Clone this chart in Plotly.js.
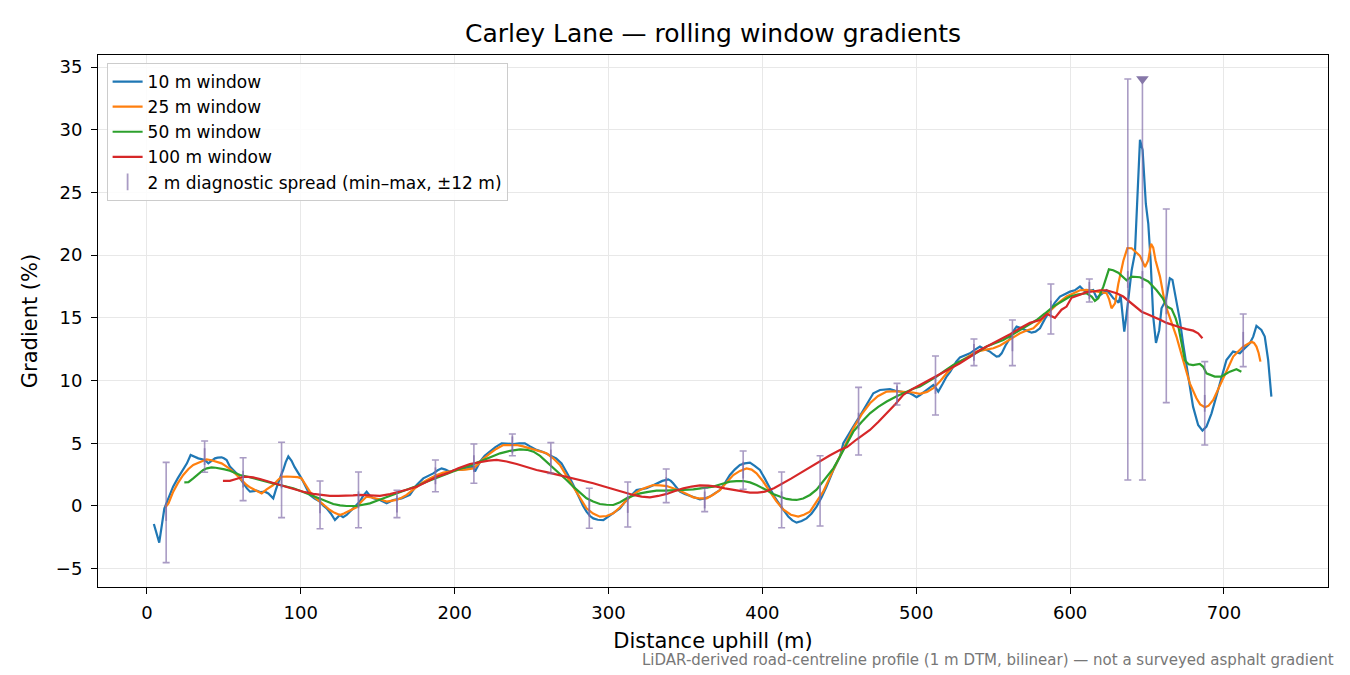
<!DOCTYPE html>
<html>
<head>
<meta charset="utf-8">
<script src="https://cdn.plot.ly/plotly-3.0.1.min.js"></script>
<style>
  body { margin: 0; background: #fff; }
  #chart { width: 1350px; height: 675px; }
</style>
</head>
<body>
<div id="chart"></div>
<script>
// 10 m window
var dist10 = [4.5, 8, 11.3, 14, 17, 20, 23.6, 26, 28.4, 31, 33.4, 37.7, 39.9, 42, 44.2, 46, 48.5, 50, 51.8, 53.9,
  56, 58.3, 60.5, 62.6, 65, 67, 69, 71.3, 74, 76.7, 78.9, 80.5, 82.1, 83.8, 85.4, 87, 88.6, 90.2, 91.9, 94,
  96, 97.3, 99.5, 101.6, 104, 105.9, 109, 112.4, 114.5, 116.8, 119.5, 122.2, 125.4, 127.5, 129.8, 132, 134.1, 136, 138.4, 140.5,
  142.8, 145, 147.1, 151.4, 155.8, 160.1, 165.5, 170.9, 173, 175.3, 179.6, 183, 186.1, 189, 191.5, 194, 196.9, 199.5, 202.3, 205,
  208, 212.1, 213.2, 216.5, 219.5, 223, 226.5, 230.5, 234, 238.1, 242, 245.6, 249, 253.2, 257.5, 261.9, 266, 269.5, 272.7, 275,
  277.1, 279.2, 281.4, 283.5, 285.7, 288, 290.1, 293, 296.6, 298.5, 300.9, 304, 307.4, 310.5, 313.9, 316, 318.2, 321.5, 324.7, 328,
  331.2, 335, 338.8, 340.5, 342, 344, 346.4, 349.5, 352.9, 356, 359.4, 362.5, 365.9, 369, 372.4, 375.5, 378.9, 382, 385.4, 388.5,
  391.9, 395, 398.4, 401.5, 404.9, 408, 411.4, 414, 416.8, 419.5, 422.2, 425.5, 428.7, 432, 435.2, 438.5, 441.7, 446.1, 450.4, 452.6,
  455.8, 459.1, 462, 465.6, 469, 472.1, 476.4, 479.5, 482.9, 486, 489.4, 492.5, 495.9, 498, 500.2, 502.5, 504.5, 508, 511.1, 512.8,
  514.3, 517, 519.7, 522, 524.1, 526, 528.4, 531.5, 534.9, 538, 541.4, 544.5, 547.9, 550, 552.2, 553.8, 555.5, 558, 560.9, 563,
  565.2, 567.5, 569.5, 572, 574.9, 577.5, 580.4, 583.5, 586.9, 590, 593.4, 596.5, 599.9, 603, 606.4, 609.7, 612.9, 615, 617.2, 620.5,
  623.7, 626, 628.1, 630, 631.5, 632.8, 634, 635.2, 636.7, 638.5, 640, 642.1, 643.6, 645.4, 647.1, 649.2, 650.8, 652.3, 654, 655.8,
  657.9, 659.4, 662.3, 664.8, 666.5, 669.1, 671.3, 673.4, 676.7, 679.9, 683.2, 686, 688.6, 691.9, 694, 696.2, 699, 701.6, 705.9, 710.3,
  713.5, 716.8, 719, 721.1, 724.3, 726.5, 728.7, 730.8];
var grad10 = [-1.44, -2.92, -0.2, 0.6, 1.54, 2.2, 2.87, 3.4, 4.07, 3.9, 3.8, 3.67, 3.4, 3.6, 3.8, 3.85, 3.88, 3.8, 3.67, 3.14,
  2.9, 2.6, 2.2, 1.81, 1.4, 1.14, 1.2, 1.22, 1.1, 1.14, 1.0, 0.8, 0.61, 1.3, 1.94, 2.4, 2.87, 3.5, 3.95, 3.6,
  3.1, 2.87, 2.4, 1.94, 1.3, 0.88, 0.6, 0.35, 0.05, -0.19, -0.6, -1.12, -0.72, -0.9, -0.72, -0.45, -0.19, 0.1, 0.35, 0.8,
  1.14, 0.8, 0.61, 0.48, 0.21, 0.48, 0.61, 0.88, 1.3, 1.67, 2.2, 2.4, 2.6, 2.85, 3.0, 2.9, 2.73, 2.85, 2.92, 2.9,
  3.0, 3.14, 2.75, 3.53, 4.0, 4.33, 4.7, 5.0, 4.95, 4.94, 5.0, 5.0, 4.75, 4.47, 4.3, 4.07, 3.8, 3.4, 2.73, 2.2,
  1.67, 1.1, 0.48, 0.0, -0.45, -0.8, -0.99, -1.1, -1.12, -0.95, -0.72, -0.5, -0.19, 0.3, 0.75, 1.05, 1.27, 1.35, 1.41, 1.6,
  1.81, 2.0, 2.12, 2.0, 1.81, 1.5, 1.14, 0.95, 0.8, 0.65, 0.53, 0.6, 0.75, 1.0, 1.27, 1.8, 2.47, 2.9, 3.27, 3.4,
  3.46, 3.2, 2.87, 2.2, 1.41, 0.7, 0.08, -0.4, -0.85, -1.15, -1.33, -1.2, -0.99, -0.6, -0.05, 0.7, 1.54, 2.87, 3.93, 5.0,
  5.7, 6.33, 6.9, 7.66, 8.4, 8.99, 9.25, 9.3, 9.31, 9.2, 9.12, 9.05, 8.99, 8.85, 8.67, 8.85, 9.04, 9.35, 9.65, 9.4,
  9.12, 9.7, 10.32, 10.7, 11.11, 11.5, 11.85, 12.0, 12.17, 12.45, 12.71, 12.5, 12.31, 12.1, 11.91, 11.95, 12.17, 12.8, 13.37, 13.9,
  14.3, 14.2, 14.09, 13.95, 13.82, 13.9, 14.17, 14.9, 15.63, 16.2, 16.7, 16.9, 17.09, 17.2, 17.5, 17.1, 17.2, 17.22, 16.6, 16.9,
  17.2, 16.9, 16.56, 16.4, 16.2, 16.8, 15.0, 13.9, 15.3, 17.3, 18.8, 20.15, 24.4, 29.2, 28.4, 24.1, 22.5, 19.6, 15.1, 13.0,
  14.0, 15.76, 16.43, 18.16, 18.03, 16.43, 14.84, 12.97, 10.32, 7.92, 6.46, 6.01, 6.33, 7.39, 8.3, 9.25, 10.6, 11.64, 12.31, 12.17,
  12.57, 12.97, 13.5, 14.36, 14.04, 13.51, 11.64, 8.72];

// 25 m window
var dist25 = [12, 14, 17.1, 20, 23.6, 27, 30.1, 34, 38.8, 42, 45.3, 48.5, 51.8, 55, 58.3, 61.5, 64.8, 67.5, 70.2, 72.5,
  74.6, 77.8, 80, 82.1, 85, 87.5, 91, 95.1, 98, 100.5, 103, 105.9, 109, 112.4, 115.5, 118.9, 122, 125.4, 128, 130.8,
  133.5, 136.2, 139.5, 142.8, 146, 149.2, 152.5, 155.8, 159, 162.2, 165.5, 168.8, 172, 175.3, 179.5, 183.9, 188, 192.6, 197, 202.3,
  207, 212.1, 215, 218.5, 223, 227, 231.6, 236, 240.2, 244.5, 248.9, 254, 259.7, 264, 268.4, 272.7, 277.1, 281.4, 285.7, 290,
  294.4, 298.7, 303.1, 307.5, 311.8, 316, 320.5, 324.8, 329.1, 333.5, 337.8, 342, 346.4, 350.8, 355.1, 359.5, 363.8, 368, 372.4, 376.8,
  381.1, 385.4, 389.7, 393, 396.2, 400.5, 404.9, 409, 413.5, 418.5, 423.3, 427, 430.9, 435, 439.5, 445, 450.4, 455, 459.1, 464.5,
  469.9, 475, 480.8, 487, 493.8, 498, 502.4, 507, 511.1, 515.5, 519.7, 524, 528.4, 534, 539.2, 544.5, 550.1, 554.5, 558.7, 563,
  567.4, 571.8, 576.1, 580.5, 584.7, 589, 593.4, 597.7, 602.1, 606.4, 610.7, 615, 619.4, 623.7, 625.3, 626.9, 629.2, 631.3, 634.6, 637.2,
  640, 642.5, 645.4, 648.7, 650.8, 652.6, 654, 655.5, 658.4, 661.6, 664.8, 669.1, 673.4, 677.8, 682.1, 684.5, 687.6, 690, 693, 696,
  699.5, 703, 706, 709, 712.5, 717.9, 719.5, 721.1, 722.5, 723.7];
var grad25 = [-0.1, 0.2, 1.14, 1.8, 2.47, 2.95, 3.27, 3.5, 3.72, 3.65, 3.53, 3.4, 3.14, 2.85, 2.47, 2.05, 1.67, 1.45, 1.27, 1.1,
  1.0, 1.33, 1.5, 1.67, 2.05, 2.33, 2.35, 2.33, 2.3, 2.2, 1.7, 1.14, 0.7, 0.35, 0.0, -0.32, -0.55, -0.72, -0.6, -0.45,
  -0.25, -0.1, 0.35, 0.75, 0.68, 0.61, 0.5, 0.35, 0.4, 0.48, 0.65, 0.88, 1.2, 1.54, 1.9, 2.2, 2.45, 2.66, 2.75, 2.87,
  2.9, 3.0, 3.3, 3.75, 4.2, 4.55, 4.86, 4.88, 4.86, 4.75, 4.6, 4.4, 4.2, 3.8, 3.27, 2.4, 1.54, 0.65, -0.19, -0.6,
  -0.85, -0.8, -0.59, -0.1, 0.48, 0.9, 1.27, 1.5, 1.67, 1.65, 1.59, 1.42, 1.22, 0.95, 0.69, 0.6, 0.61, 0.9, 1.27, 1.9,
  2.47, 2.8, 3.0, 2.9, 2.6, 1.95, 1.14, 0.4, -0.27, -0.7, -0.85, -0.7, -0.45, 0.3, 1.14, 2.6, 4.0, 5.1, 6.19, 7.3,
  8.19, 8.75, 9.12, 9.15, 9.12, 9.05, 8.94, 9.1, 9.39, 9.95, 10.58, 11.1, 11.51, 11.95, 12.31, 12.45, 12.58, 12.8, 13.1, 13.45,
  13.77, 14.0, 14.17, 14.7, 15.3, 15.8, 16.3, 16.7, 16.97, 17.2, 17.23, 17.15, 17.1, 16.97, 16.5, 15.76, 16.16, 17.7, 19.56, 20.56,
  20.55, 20.3, 19.94, 19.06, 19.6, 20.9, 20.6, 19.6, 18.29, 16.16, 14.97, 13.51, 11.64, 9.78, 8.59, 8.1, 7.87, 8.0, 8.45, 9.2,
  10.18, 11.1, 11.91, 12.3, 12.71, 13.1, 13.0, 12.71, 12.2, 11.51];

// 50 m window
var dist50 = [24.3, 27, 30.1, 33.3, 36.6, 39, 42, 44.7, 47.4, 50.5, 53.9, 57, 60.5, 64.8, 69.1, 73.5, 77.8, 82, 86.5, 90.8,
  95.1, 99.5, 103.8, 108, 112.4, 116.8, 121.1, 125.5, 129.8, 136.2, 140.5, 144.9, 150.3, 155.8, 162.2, 168.8, 175.3, 181.8, 188.3, 194.8,
  202.3, 209.9, 216.5, 223, 229.5, 236, 242.5, 247, 251.2, 255.5, 259.8, 264, 268.4, 272.7, 277.1, 281.4, 285.7, 290, 294.4, 298.7,
  303.1, 307.5, 311.8, 316, 320.5, 325.8, 331.2, 336.6, 342, 348.5, 355.1, 361.6, 368.1, 373.5, 378.9, 383.2, 387.6, 392, 396.2, 401.6,
  407, 411.3, 415.7, 419, 422.2, 426.5, 430.9, 435.2, 439.5, 446.1, 450.4, 454.8, 459.1, 464.5, 469.9, 475.3, 480.8, 487.3, 493.8, 498.1,
  502.4, 507.8, 513.2, 518.6, 524.1, 529.5, 534.9, 540.3, 545.7, 551.1, 556.6, 562, 567.4, 572.8, 578.2, 583.6, 589, 594.5, 599.9, 605.3,
  610.7, 614, 616.1, 618.3, 621.6, 625.2, 628, 631.3, 636.7, 640, 645.4, 650.8, 656.2, 660, 663, 666, 668.5, 670.5, 674.6, 677,
  679.9, 684.3, 686.5, 688.6, 694, 698.3, 703.8, 708.1, 711.3];
var grad50 = [1.89, 1.9, 2.2, 2.55, 2.87, 3.0, 3.08, 3.05, 3.0, 2.92, 2.81, 2.65, 2.47, 2.35, 2.2, 2.08, 1.94, 1.8, 1.67, 1.55,
  1.41, 1.22, 1.0, 0.8, 0.61, 0.38, 0.16, 0.05, 0.0, 0.0, 0.08, 0.21, 0.45, 0.69, 0.98, 1.27, 1.6, 1.94, 2.27, 2.6,
  2.92, 3.22, 3.53, 3.87, 4.2, 4.4, 4.52, 4.48, 4.33, 4.0, 3.53, 3.05, 2.6, 2.07, 1.54, 1.05, 0.61, 0.35, 0.16, 0.1,
  0.08, 0.3, 0.61, 0.82, 1.0, 1.12, 1.22, 1.22, 1.22, 1.28, 1.33, 1.42, 1.54, 1.75, 1.94, 1.98, 1.99, 1.88, 1.67, 1.33,
  0.96, 0.75, 0.56, 0.5, 0.48, 0.6, 0.88, 1.3, 1.94, 3.0, 3.93, 4.9, 5.93, 6.7, 7.39, 7.9, 8.33, 8.75, 9.12, 9.35,
  9.52, 9.92, 10.32, 10.8, 11.25, 11.6, 11.91, 12.3, 12.71, 12.98, 13.24, 13.62, 14.03, 14.4, 14.83, 15.35, 15.9, 16.3, 16.7, 16.88,
  16.96, 16.7, 16.35, 16.56, 17.49, 18.87, 18.8, 18.6, 18.0, 18.29, 18.24, 17.9, 17.2, 16.6, 15.9, 15.7, 15.0, 14.2, 11.6, 11.3,
  11.24, 11.32, 11.1, 10.58, 10.32, 10.32, 10.71, 10.9, 10.71];

// 100 m window
var dist100 = [49.4, 53.9, 58, 62.6, 66, 69.1, 73.5, 77.8, 82, 86.5, 92, 97.3, 102.7, 108.1, 113.5, 118.9, 124.4, 129.8, 134, 138.4,
  145, 151.4, 158, 164.4, 170, 175.3, 182, 188.3, 195, 202.3, 209.9, 216.5, 222, 227.3, 233.8, 240.3, 246.8, 253.2, 259.7, 266.2,
  271.7, 277.1, 283.6, 290.1, 296.6, 303.1, 309.6, 316.1, 321.5, 326.9, 332.3, 337.8, 343.2, 348.6, 354, 359.4, 364.8, 370.2, 375.6, 381.1,
  386.5, 391.9, 396.8, 401.6, 407.5, 413.5, 418.9, 424.3, 430.8, 437.4, 444, 450.4, 455, 461.2, 469.9, 475.3, 480.8, 486.2, 491.6, 497,
  502.4, 507.8, 513.2, 520.8, 528.4, 535, 541.4, 548, 554.4, 561, 567.4, 573.9, 580.4, 585, 590.1, 594.4, 597.7, 600.9, 606.4, 610.7,
  615, 619.4, 623.7, 627, 630.2, 634.5, 638.9, 643, 646.5, 650, 654, 658.5, 662.7, 667, 671.3, 675.5, 680, 683.2, 686];
var grad100 = [2.0, 2.0, 2.15, 2.33, 2.32, 2.28, 2.15, 2.01, 1.85, 1.67, 1.47, 1.27, 1.1, 0.96, 0.86, 0.8, 0.8, 0.8, 0.84, 0.88,
  0.84, 0.8, 0.95, 1.14, 1.33, 1.54, 1.93, 2.33, 2.6, 3.0, 3.35, 3.53, 3.62, 3.67, 3.55, 3.35, 3.1, 2.87, 2.7, 2.52,
  2.36, 2.2, 2.0, 1.81, 1.57, 1.33, 1.1, 0.88, 0.75, 0.69, 0.8, 0.96, 1.2, 1.41, 1.55, 1.65, 1.62, 1.54, 1.4, 1.27,
  1.15, 1.06, 1.07, 1.14, 1.42, 1.81, 2.2, 2.6, 3.07, 3.6, 4.05, 4.47, 4.7, 5.3, 6.06, 6.7, 7.39, 8.1, 8.86, 9.3,
  9.65, 10.0, 10.37, 10.88, 11.38, 11.9, 12.44, 12.85, 13.24, 13.7, 14.17, 14.6, 14.83, 15.3, 15.0, 15.65, 15.9, 16.6, 16.85, 17.05,
  17.1, 17.2, 17.2, 17.1, 16.96, 16.7, 16.25, 15.85, 15.49, 15.3, 15.1, 14.85, 14.6, 14.4, 14.25, 14.1, 13.98, 13.77, 13.37];

// 2 m diagnostic spread (min-max within +-12 m)
var spreadDist = [12.5, 37.5, 62.5, 87.5, 112.5, 137.5, 162.5, 187.5, 212.5, 237.5, 262.5, 287.5, 312.5, 337.5, 362.5,
  387.5, 412.5, 437.5, 462.5, 487.5, 512.5, 537.5, 562.5, 587.5, 612.5, 637.5, 647, 662.5, 687.5, 712.5];
var spreadMin = [-4.52, 2.69, 0.43, -0.93, -1.81, -1.73, -0.93, 1.14, 1.81, 4.01, 2.6, -1.78, -1.67, 0.27, -0.45,
  1.33, -1.73, -1.6, 4.07, 8.05, 7.26, 11.19, 11.19, 13.71, 16.27, 2.07, 2.07, 8.24, 4.86, 11.11];
var spreadMax = [3.48, 5.18, 3.85, 5.08, 1.99, 2.71, 1.25, 3.67, 4.94, 5.74, 5.05, 1.41, 1.91, 2.95, 1.41,
  4.39, 2.71, 4.01, 9.46, 9.78, 11.96, 13.32, 14.83, 17.7, 18.1, 34.05, 34.05, 23.68, 11.51, 15.31];

// peak marker
var peakDist = [647];
var peakGrad = [34.05];

var spreadMid = spreadDist.map(function (d, i) { return (spreadMin[i] + spreadMax[i]) / 2; });
var spreadUp = spreadDist.map(function (d, i) { return spreadMax[i] - spreadMid[i]; });
var spreadDown = spreadDist.map(function (d, i) { return spreadMid[i] - spreadMin[i]; });

var barColor = 'rgba(128,108,168,0.68)';

var data = [
  { x: dist10, y: grad10, name: '10 m window', type: 'scatter', mode: 'lines',
    line: { color: '#1f77b4', width: 2.2 } },
  { x: dist25, y: grad25, name: '25 m window', type: 'scatter', mode: 'lines',
    line: { color: '#ff7f0e', width: 2.2 } },
  { x: dist50, y: grad50, name: '50 m window', type: 'scatter', mode: 'lines',
    line: { color: '#2ca02c', width: 2.2 } },
  { x: dist100, y: grad100, name: '100 m window', type: 'scatter', mode: 'lines',
    line: { color: '#d62728', width: 2.2 } },
  { x: spreadDist, y: spreadMid, name: '2 m diagnostic spread (min–max, ±12 m)', type: 'scatter', mode: 'markers',
    marker: { symbol: 'line-ns-open', size: 12, color: barColor, line: { color: barColor, width: 1.8 } },
    error_y: { type: 'data', symmetric: false, array: spreadUp, arrayminus: spreadDown,
      color: barColor, thickness: 1.6, width: 3.5 } },
  { x: peakDist, y: peakGrad, type: 'scatter', mode: 'markers', showlegend: false,
    marker: { symbol: 'triangle-down', size: 11, color: '#8677a8' } }
];

var axisBase = {
  showline: true, mirror: true, linecolor: '#000', linewidth: 1,
  ticks: 'outside', ticklen: 6, tickcolor: '#000', tickwidth: 1,
  showgrid: true, gridcolor: '#e8e8e8', gridwidth: 1, zeroline: false,
  tickfont: { size: 18, color: '#000' }
};

var layout = {
  width: 1350,
  height: 675,
  margin: { l: 98, r: 22, t: 55, b: 88 },
  paper_bgcolor: '#fff',
  plot_bgcolor: '#fff',
  font: { family: 'DejaVu Sans, sans-serif', color: '#000' },
  title: { text: 'Carley Lane — rolling window gradients', xref: 'paper', x: 0.5, xanchor: 'center',
    y: 0.951, yanchor: 'middle', font: { size: 25 } },
  xaxis: Object.assign({}, axisBase, {
    range: [-31.8, 767.6], tick0: 0, dtick: 100, automargin: false, ticklabelstandoff: 3,
    title: { text: 'Distance uphill (m)', font: { size: 21 }, standoff: 11 }
  }),
  yaxis: Object.assign({}, axisBase, {
    range: [-6.46, 35.96], tick0: 0, dtick: 5, automargin: false, ticklabelstandoff: 5,
    title: { text: 'Gradient (%)', font: { size: 21 }, standoff: 12 }
  }),
  showlegend: true,
  legend: {
    x: 0.007, y: 0.985, xanchor: 'left', yanchor: 'top',
    bgcolor: 'rgba(255,255,255,0.85)', bordercolor: '#cccccc', borderwidth: 1,
    font: { size: 17 }, tracegroupgap: 0, itemwidth: 30
  },
  annotations: [{
    text: 'LiDAR-derived road-centreline profile (1 m DTM, bilinear) — not a surveyed asphalt gradient',
    xref: 'paper', yref: 'paper', x: 1.0065, y: -0.137, xanchor: 'right', yanchor: 'middle',
    showarrow: false, font: { size: 15, color: '#777' }
  }]
};

Plotly.newPlot('chart', data, layout, { displayModeBar: false, staticPlot: true });
</script>
</body>
</html>
